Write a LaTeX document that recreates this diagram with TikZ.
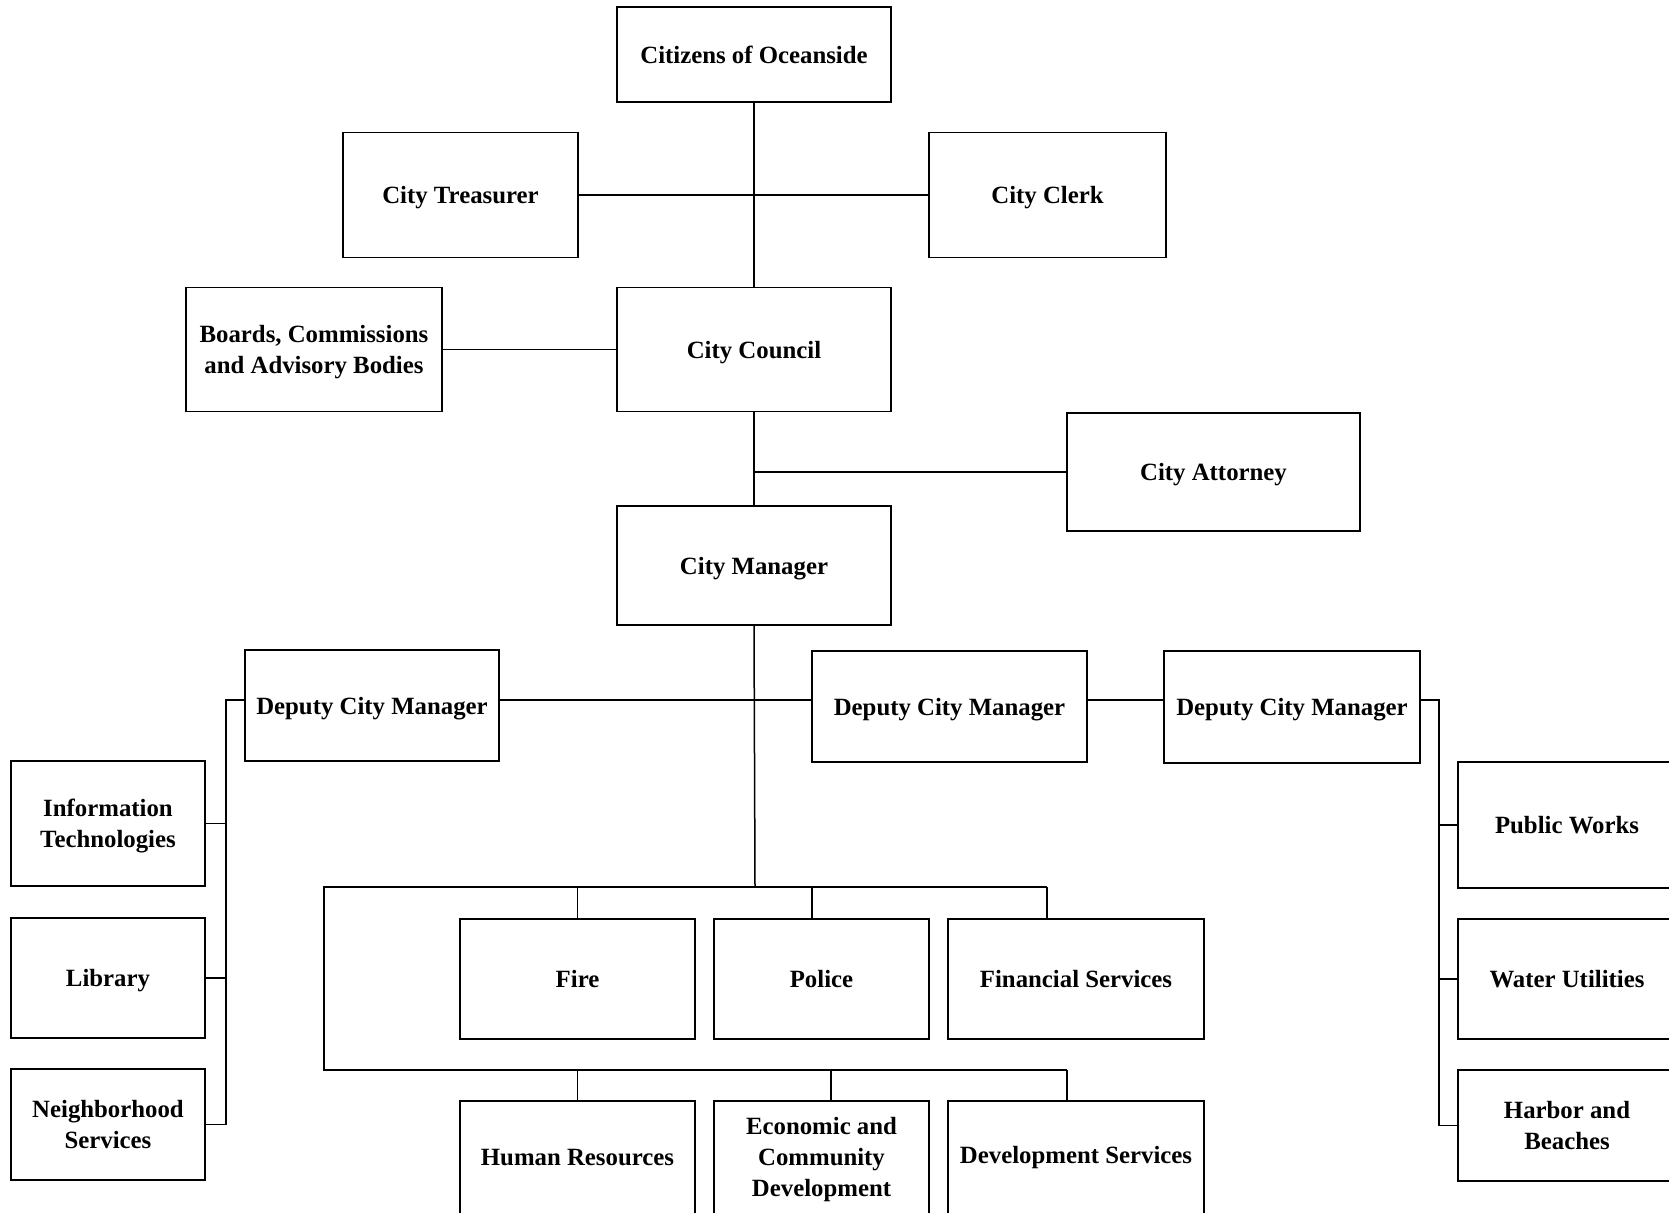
\documentclass[tikz,border=0pt]{standalone}
\usepackage{fontspec}
\setmainfont{Liberation Serif}
\newcommand{\tpad}{\rule{0pt}{11.5pt}}
\begin{document}
\begin{tikzpicture}[x=0.5pt,y=-0.5pt,
  box/.style={draw, line width=0.8pt, align=center, inner sep=0pt,
    font=\fontsize{12.4}{15.5}\selectfont\bfseries},
  tdown/.style={execute at begin node={\tpad}},
  conn/.style={line width=0.75pt}]
\useasboundingbox (0,0) rectangle (1669,1212);
\clip (0,0) rectangle (1669,1212);
\fill[white] (0,0) rectangle (1669,1212);

\node[box, minimum width=137pt, minimum height=47.5pt] (cit) at (754,54.5) {Citizens of Oceanside};
\node[box, tdown, minimum width=117.5pt, minimum height=62.5pt] (treas) at (460.5,195) {City Treasurer};
\node[box, tdown, minimum width=118.5pt, minimum height=62.5pt] (clerk) at (1047.5,195) {City Clerk};
\node[box, minimum width=128pt, minimum height=62pt] (boards) at (314,349.5) {\tpad Boards, Commissions\\and Advisory Bodies};
\node[box, tdown, minimum width=137pt, minimum height=62pt] (council) at (754,349.5) {City Council};
\node[box, tdown, minimum width=146.5pt, minimum height=59pt] (attorney) at (1213.5,472) {City Attorney};
\node[box, tdown, minimum width=137pt, minimum height=59.5pt] (manager) at (754,565.5) {City Manager};

\node[box, tdown, minimum width=127pt, minimum height=55.5pt] (dcmL) at (372,705.5) {Deputy City Manager};
\node[box, tdown, minimum width=137.5pt, minimum height=55.5pt] (dcmM) at (949.5,706.5) {Deputy City Manager};
\node[box, tdown, minimum width=128pt, minimum height=56pt] (dcmR) at (1292,707) {Deputy City Manager};

\node[box, minimum width=97pt, minimum height=62.5pt] (it) at (108,823.5) {\tpad Information\\Technologies};
\node[box, tdown, minimum width=97pt, minimum height=60pt] (lib) at (108,978) {Library};
\node[box, minimum width=97pt, minimum height=55.5pt] (nbh) at (108,1124.5) {Neighborhood\\Services};

\node[box, minimum width=109pt, minimum height=63pt] (pw) at (1567,825) {Public Works};
\node[box, minimum width=109pt, minimum height=60pt] (water) at (1567,979) {Water Utilities};
\node[box, minimum width=109pt, minimum height=55.5pt] (harbor) at (1567,1125.5) {Harbor and\\Beaches};

\node[box, minimum width=117.5pt, minimum height=60pt] (fire) at (577.5,979) {Fire};
\node[box, minimum width=107.5pt, minimum height=60pt] (police) at (821.5,979) {Police};
\node[box, minimum width=128pt, minimum height=60pt] (fin) at (1076,979) {Financial Services};

\node[box, minimum width=117.5pt, minimum height=56.5pt] (hr) at (577.5,1157.5) {Human Resources};
\node[box, minimum width=107.5pt, minimum height=56.5pt] (econ) at (821.5,1157.5) {\rule{0pt}{10.5pt}Economic and\\Community\\Development};
\node[box, minimum width=128pt, minimum height=56.5pt] (dev) at (1076,1157.5) {Development Services};

% coordinates
\coordinate (dl) at (755,700);
\coordinate (lbus) at (226,700);
\coordinate (rbus) at (1439,700);
\coordinate (bt) at (755,887);
\coordinate (btL) at (324,887);
\coordinate (btR) at (1047,887);
\coordinate (pd) at (812,887);
\coordinate (bb) at (324,1070);
\coordinate (bbR) at (1067,1070);
\coordinate (ed) at (831,1070);

% connectors
\draw[conn] (cit.south) -- (council.north);
\draw[conn] (treas.east) -- (treas.east -| clerk.west);
\draw[conn] (boards.east) -- (boards.east -| council.west);
\draw[conn] (council.south) -- (manager.north);
\draw[conn] (attorney.west) -- (attorney.west -| council.south);
\draw[conn] (manager.south) -- (bt);

\draw[conn] (dcmL.east |- dl) -- (dcmM.west |- dl);
\draw[conn] (dcmM.east |- dl) -- (dcmR.west |- dl);

\draw[conn] (dcmL.west |- dl) -- (lbus) |- (nbh.east);
\draw[conn] (lbus |- it.east) -- (it.east);
\draw[conn] (lbus |- lib.east) -- (lib.east);

\draw[conn] (dcmR.east |- dl) -- (rbus) |- (harbor.west);
\draw[conn] (rbus |- pw.west) -- (pw.west);
\draw[conn] (rbus |- water.west) -- (water.west);

\draw[conn] (btR) -- (btL) -- (bb) -- (bbR);
\draw[conn] (fire.north |- bt) -- (fire.north);
\draw[conn] (pd) -- (pd |- police.north);
\draw[conn] (btR) -- (btR |- fin.north);
\draw[conn] (hr.north |- bb) -- (hr.north);
\draw[conn] (ed) -- (ed |- econ.north);
\draw[conn] (bbR) -- (bbR |- dev.north);
\end{tikzpicture}
\end{document}
